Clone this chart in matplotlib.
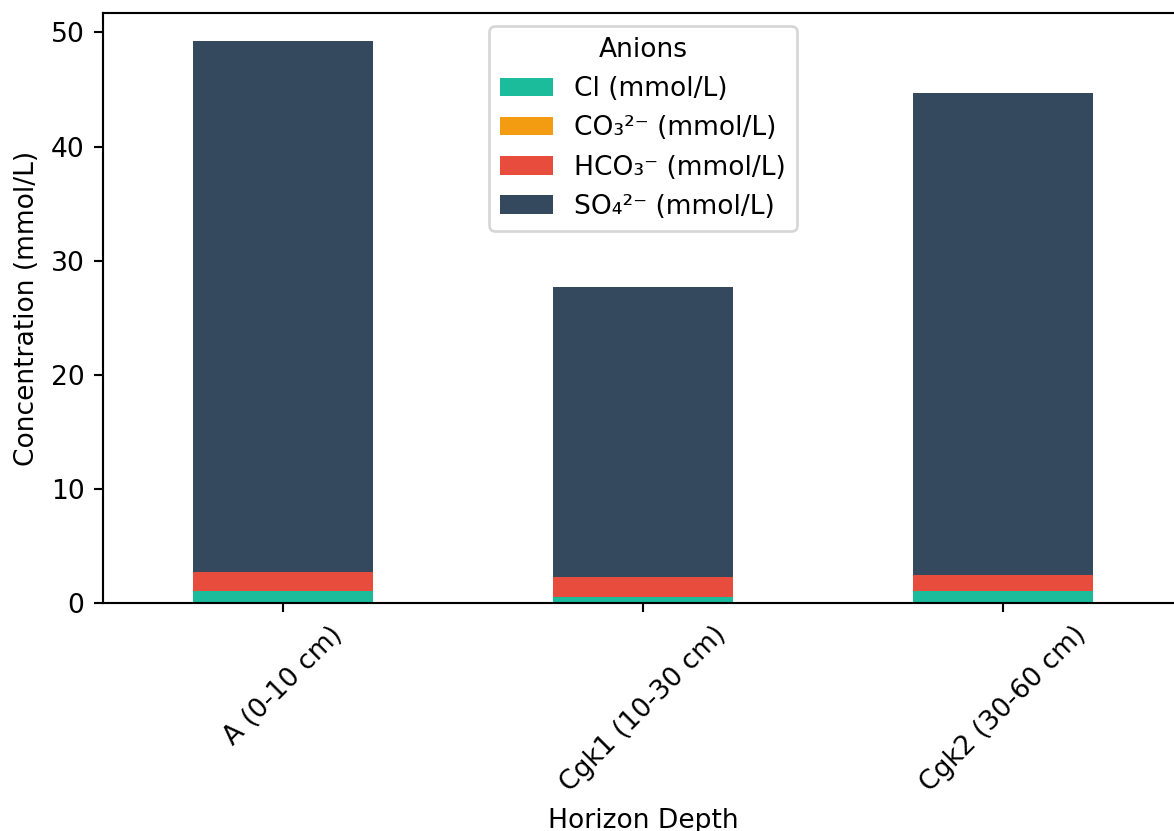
import numpy as np
import pandas as pd
import matplotlib
matplotlib.use('Agg')
import matplotlib.pyplot as plt

# anion concentrations per soil horizon (mmol/L)
horizons = ['A (0-10 cm)', 'Cgk1 (10-30 cm)', 'Cgk2 (30-60 cm)']
cl   = [1.05, 0.55, 1.05]
co3  = [0.0, 0.0, 0.0]
hco3 = [1.69, 1.70, 1.37]
so4  = [46.50, 25.48, 42.26]

colors = ['#1abc9c', '#f39c12', '#e74c3c', '#34495e']

df = pd.DataFrame({
    'Cl (mmol/L)': cl,
    'CO\u2083\u00b2\u207b (mmol/L)': co3,
    'HCO\u2083\u207b (mmol/L)': hco3,
    'SO\u2084\u00b2\u207b (mmol/L)': so4,
}, index=horizons)

dpi = 191
fig = plt.figure(figsize=(1174 / dpi, 831 / dpi), dpi=dpi)
ax = fig.add_axes([0.0877, 0.2744, 0.9199, 0.710])

df.plot(kind='bar', stacked=True, color=colors, ax=ax, rot=45)
ax.set_xlabel('Horizon Depth')
ax.set_ylabel('Concentration (mmol/L)')
ax.legend(title='Anions', loc='upper center')

fig.savefig('out.png', dpi=dpi)
